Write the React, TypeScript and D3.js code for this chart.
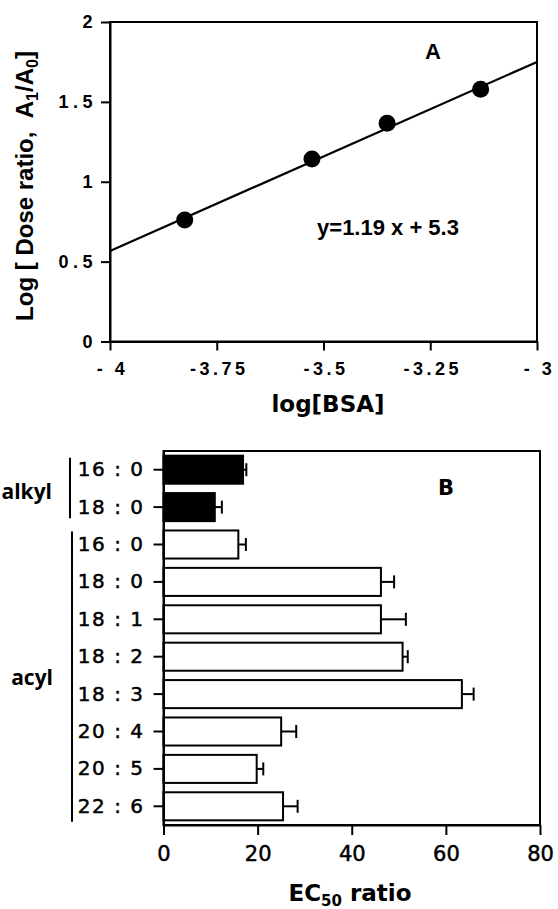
import React, { useEffect, useRef } from 'react';
import * as d3 from 'd3';

// Panel A: dose ratio vs log[BSA]
const logBSA = [-3.825, -3.527, -3.351, -3.132];
const logDoseRatio = [0.76, 1.142, 1.366, 1.579];
const fitX = [-4, -3];
const fitY = [0.567, 1.75];
const aXTicks = [-4, -3.75, -3.5, -3.25, -3];
const aXTickLabels = ['- 4', '-3.75', '-3.5', '-3.25', '- 3'];
const aYTicks = [0, 0.5, 1, 1.5, 2];
const aYTickLabels = ['0', '0.5', '1', '1.5', '2'];

// Panel B: EC50 ratio by chain
const chains = ['16 : 0', '18 : 0', '16 : 0 ', '18 : 0 ', '18 : 1', '18 : 2', '18 : 3', '20 : 4', '20 : 5', '22 : 6'];
const chainGroup = ['alkyl', 'alkyl', 'acyl', 'acyl', 'acyl', 'acyl', 'acyl', 'acyl', 'acyl', 'acyl'];
const ec50Ratio = [16.9, 10.9, 15.9, 46.2, 46.2, 50.8, 63.4, 25.0, 19.8, 25.4];
const ec50Err = [0.7, 1.5, 1.6, 2.8, 5.3, 1.1, 2.5, 3.2, 1.4, 3.1];
const bXTicks = [0, 20, 40, 60, 80];

const boldFont = '"Liberation Sans", Arial, sans-serif';
const roundFont = '"DejaVu Sans", sans-serif';
const groupFont = '"Open Sans", "DejaVu Sans", sans-serif';

export default function App() {
  const ref = useRef<SVGSVGElement>(null);

  useEffect(() => {
    if (!ref.current) return;
    const svg = d3.select(ref.current);
    svg.selectAll('*').remove();

    // ---------- Panel A ----------
    const a = { left: 110, right: 537, top: 22, bottom: 341.5 };
    const x = d3.scaleLinear().domain([-4, -3]).range([a.left, a.right]);
    const y = d3.scaleLinear().domain([0, 2]).range([a.bottom, a.top]);
    const gA = svg.append('g');

    gA.append('rect')
      .attr('x', a.left).attr('y', a.top)
      .attr('width', a.right - a.left).attr('height', a.bottom - a.top)
      .attr('fill', 'none').attr('stroke', '#000').attr('stroke-width', 2);

    const xAxisA = gA.append('g')
      .attr('transform', `translate(0,${a.bottom})`)
      .call(d3.axisBottom(x).tickValues(aXTicks).tickSize(9).tickSizeOuter(0)
        .tickFormat((_, i) => aXTickLabels[i]));
    xAxisA.select('.domain').attr('stroke-width', 2);
    xAxisA.selectAll('.tick line').attr('stroke-width', 2);
    xAxisA.selectAll('.tick text')
      .attr('y', 21).attr('dx', 2)
      .attr('font-family', boldFont).attr('font-weight', 'bold')
      .attr('font-size', 18).attr('letter-spacing', 3.5).attr('fill', '#000');

    const yAxisA = gA.append('g')
      .attr('transform', `translate(${a.left},0)`)
      .call(d3.axisLeft(y).tickValues(aYTicks).tickSize(9).tickSizeOuter(0)
        .tickFormat((_, i) => aYTickLabels[i]));
    yAxisA.select('.domain').attr('stroke-width', 2);
    yAxisA.selectAll('.tick line').attr('stroke-width', 2);
    yAxisA.selectAll('.tick text')
      .attr('x', -13)
      .attr('font-family', boldFont).attr('font-weight', 'bold')
      .attr('font-size', 18).attr('letter-spacing', 4.5).attr('fill', '#000');

    gA.append('line')
      .attr('x1', x(fitX[0])).attr('y1', y(fitY[0]))
      .attr('x2', x(fitX[1])).attr('y2', y(fitY[1]))
      .attr('stroke', '#000').attr('stroke-width', 2.2);

    gA.selectAll('circle.pt')
      .data(logBSA)
      .enter()
      .append('circle')
      .attr('class', 'pt')
      .attr('cx', d => x(d))
      .attr('cy', (_, i) => y(logDoseRatio[i]))
      .attr('r', 8.5)
      .attr('fill', '#000');

    gA.append('text')
      .attr('x', 433).attr('y', 59)
      .attr('text-anchor', 'middle')
      .attr('font-family', boldFont).attr('font-weight', 'bold').attr('font-size', 22)
      .text('A');

    gA.append('text')
      .attr('x', 388).attr('y', 235)
      .attr('text-anchor', 'middle')
      .attr('font-family', boldFont).attr('font-weight', 'bold').attr('font-size', 22)
      .text('y=1.19 x + 5.3');

    const yl = gA.append('text')
      .attr('transform', 'translate(33,186) rotate(-90)')
      .attr('text-anchor', 'middle')
      .attr('font-family', boldFont).attr('font-weight', 'bold').attr('font-size', 24);
    yl.append('tspan').text('Log [ Dose ratio,\u00a0\u00a0A');
    yl.append('tspan').attr('font-size', 16).attr('dy', 5).text('1');
    yl.append('tspan').attr('dy', -5).text('/A');
    yl.append('tspan').attr('font-size', 16).attr('dy', 5).text('0');
    yl.append('tspan').attr('dy', -5).text(']');

    gA.append('text')
      .attr('x', 328).attr('y', 412)
      .attr('text-anchor', 'middle')
      .attr('font-family', roundFont).attr('font-weight', 'bold').attr('font-size', 23)
      .text('log[BSA]');

    // ---------- Panel B ----------
    const b = { left: 163.5, right: 540, top: 451, bottom: 825 };
    const xb = d3.scaleLinear().domain([0, 80]).range([b.left, b.right]);
    const yb = d3.scaleBand().domain(chains).range([b.top, b.bottom]).paddingInner(0.25).paddingOuter(0.125);
    const gB = svg.append('g');

    gB.append('rect')
      .attr('x', b.left).attr('y', b.top)
      .attr('width', b.right - b.left).attr('height', b.bottom - b.top)
      .attr('fill', 'none').attr('stroke', '#000').attr('stroke-width', 2);

    gB.selectAll('rect.bar')
      .data(chains)
      .enter()
      .append('rect')
      .attr('class', 'bar')
      .attr('x', xb(0))
      .attr('y', d => yb(d) ?? 0)
      .attr('width', (_, i) => xb(ec50Ratio[i]) - xb(0))
      .attr('height', yb.bandwidth())
      .attr('fill', (_, i) => (chainGroup[i] === 'alkyl' ? '#000' : '#fff'))
      .attr('stroke', '#000').attr('stroke-width', 2);

    const eb = gB.selectAll('g.err')
      .data(chains)
      .enter()
      .append('g')
      .attr('class', 'err');
    eb.append('line')
      .attr('x1', (_, i) => xb(ec50Ratio[i]))
      .attr('x2', (_, i) => xb(ec50Ratio[i] + ec50Err[i]))
      .attr('y1', d => (yb(d) ?? 0) + yb.bandwidth() / 2)
      .attr('y2', d => (yb(d) ?? 0) + yb.bandwidth() / 2)
      .attr('stroke', '#000').attr('stroke-width', 2);
    eb.append('line')
      .attr('x1', (_, i) => xb(ec50Ratio[i] + ec50Err[i]))
      .attr('x2', (_, i) => xb(ec50Ratio[i] + ec50Err[i]))
      .attr('y1', d => (yb(d) ?? 0) + yb.bandwidth() / 2 - 6.5)
      .attr('y2', d => (yb(d) ?? 0) + yb.bandwidth() / 2 + 6.5)
      .attr('stroke', '#000').attr('stroke-width', 2);

    const xAxisB = gB.append('g')
      .attr('transform', `translate(0,${b.bottom})`)
      .call(d3.axisBottom(xb).tickValues(bXTicks).tickSize(10).tickSizeOuter(0));
    xAxisB.select('.domain').attr('stroke-width', 2);
    xAxisB.selectAll('.tick line').attr('stroke-width', 2);
    xAxisB.selectAll('.tick text')
      .attr('y', 21)
      .attr('font-family', roundFont).attr('font-size', 21).attr('fill', '#000')
      .attr('stroke', '#000').attr('stroke-width', 0.5);

    const yAxisB = gB.append('g')
      .attr('transform', `translate(${b.left},0)`)
      .call(d3.axisLeft(yb).tickSize(10).tickSizeOuter(0));
    yAxisB.select('.domain').attr('stroke-width', 2);
    yAxisB.selectAll('.tick line').attr('stroke-width', 2);
    yAxisB.selectAll('.tick text')
      .attr('x', -19)
      .attr('font-family', roundFont).attr('font-size', 20).attr('letter-spacing', 1.5).attr('fill', '#000')
      .attr('stroke', '#000').attr('stroke-width', 0.5)
      .text(d => String(d).trim());

    // group brackets
    const groups = ['alkyl', 'acyl'];
    groups.forEach((grp, gi) => {
      const idx = chainGroup.map((c, i) => (c === grp ? i : -1)).filter(i => i >= 0);
      const y0 = (yb(chains[idx[0]]) ?? 0) + (gi === 0 ? 2 : 1);
      const y1 = (yb(chains[idx[idx.length - 1]]) ?? 0) + yb.bandwidth() + (gi === 0 ? -3 : 1.5);
      const bx = gi === 0 ? 70 : 72;
      gB.append('line')
        .attr('x1', bx).attr('x2', bx).attr('y1', y0).attr('y2', y1)
        .attr('stroke', '#000').attr('stroke-width', 2);
      gB.append('text')
        .attr('x', gi === 0 ? 52 : 53)
        .attr('y', gi === 0 ? 499 : 685)
        .attr('text-anchor', 'end')
        .attr('font-family', groupFont).attr('font-weight', 'bold').attr('font-size', 21)
        .text(grp);
    });

    gB.append('text')
      .attr('x', 446).attr('y', 495)
      .attr('text-anchor', 'middle')
      .attr('font-family', roundFont).attr('font-weight', 'bold').attr('font-size', 21)
      .text('B');

    const xl = gB.append('text')
      .attr('x', 350).attr('y', 901)
      .attr('text-anchor', 'middle')
      .attr('font-family', roundFont).attr('font-weight', 'bold').attr('font-size', 23);
    xl.append('tspan').text('EC');
    xl.append('tspan').attr('font-size', 15).attr('dy', 5).text('50');
    xl.append('tspan').attr('dy', -5).text(' ratio');
  }, []);

  return (
    <svg
      ref={ref}
      width={558}
      height={909}
      style={{ position: 'absolute', left: 0, top: 0, background: '#fff' }}
    />
  );
}
